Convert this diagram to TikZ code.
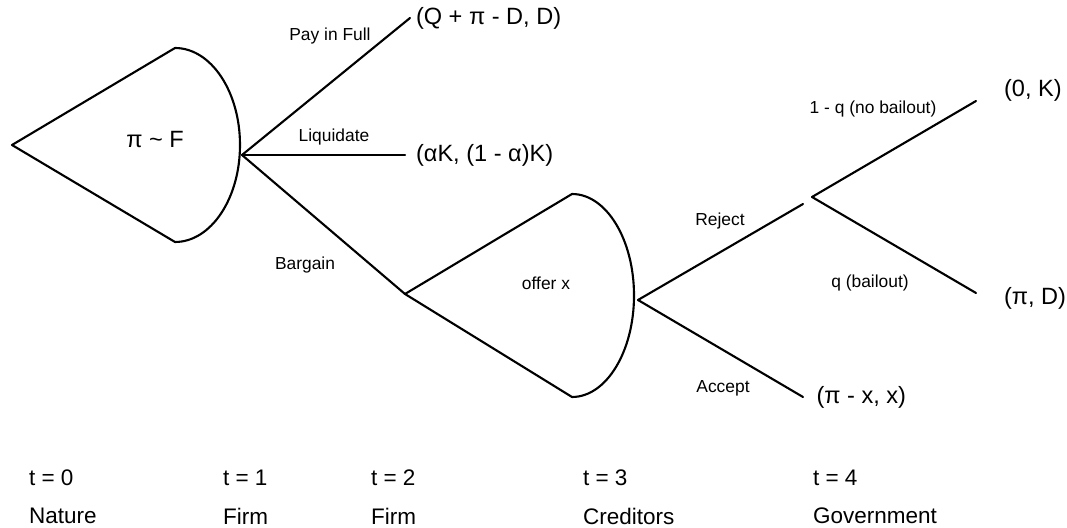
\documentclass[tikz,border=0pt]{standalone}
\usepackage{fontspec}
\setmainfont{Liberation Sans}
\usetikzlibrary{positioning}

\begin{document}
\begin{tikzpicture}[line width=1.2pt,line cap=round,line join=round,
  payoff/.style={font=\fontsize{13.4}{15}\selectfont,inner sep=0pt,anchor=west},
  move/.style={font=\fontsize{9.9}{11}\selectfont,inner sep=0pt},
  player/.style={font=\fontsize{13.4}{15}\selectfont,inner sep=0pt},
  period/.style={font=\fontsize{12.8}{14}\selectfont,inner sep=0pt,anchor=west}]
\useasboundingbox (0,0) rectangle (21.34,10.54);
\coordinate (nature) at (0.24,7.64);
\coordinate (natop) at (3.5,9.58);
\coordinate (nabot) at (3.5,5.70);
\draw (nature) -- (nabot) arc[start angle=-90,end angle=90,x radius=1.3,y radius=1.94] -- cycle;
\node[player] (distr) at (3.1,7.74) {π \textasciitilde{} F};
\coordinate (firm1) at (4.84,7.44);
\coordinate (pay) at (8.2,10.18);
\coordinate (liq) at (8.1,7.44);
\coordinate (barg) at (8.1,4.66);
\draw (firm1) -- (pay);
\draw (firm1) -- (liq);
\draw (firm1) -- (barg);
\node[payoff,right=0.1 of pay] (paypay) {(Q + π - D, D)};
\node[payoff,right=0.2 of liq] (liqpay) {(αK, (1 - α)K)};
\node[move] (paylab) at (6.6,9.82) {Pay in Full};
\node[move] (liqlab) at (6.68,7.8) {Liquidate};
\node[move] (barglab) at (6.1,5.24) {Bargain};
\coordinate (oftop) at (11.44,6.66);
\coordinate (ofbot) at (11.44,2.60);
\draw (barg) -- (ofbot) arc[start angle=-90,end angle=90,x radius=1.24,y radius=2.03] -- cycle;
\node[move] (offer) at (10.92,4.88) {offer x};
\coordinate (cred) at (12.76,4.54);
\coordinate (rej) at (16.06,6.46);
\coordinate (acc) at (16.06,2.60);
\draw (cred) -- (rej);
\draw (cred) -- (acc);
\node[payoff,right=0.25 of acc] (accpay) {(π - x, x)};
\node[move] (rejlab) at (14.4,6.12) {Reject};
\node[move] (acclab) at (14.46,2.78) {Accept};
\coordinate (gov) at (16.24,6.60);
\coordinate (nobail) at (19.52,8.52);
\coordinate (bail) at (19.52,4.68);
\draw (gov) -- (nobail);
\draw (gov) -- (bail);
\node[payoff] (nobailpay) at (20.06,8.74) {(0, K)};
\node[payoff] (bailpay) at (20.06,4.58) {(π, D)};
\node[move] (nobaillab) at (17.46,8.36) {1 - q (no bailout)};
\node[move] (baillab) at (17.4,4.88) {q (bailout)};
\node[period] (t0) at (0.56,0.98) {t = 0};
\node[period] (t1) at (4.44,0.98) {t = 1};
\node[period] (t2) at (7.4,0.98) {t = 2};
\node[period] (t3) at (11.64,0.98) {t = 3};
\node[period] (t4) at (16.24,0.98) {t = 4};
\node[period] (who0) at (0.56,0.22) {Nature};
\node[period] (who1) at (4.44,0.22) {Firm};
\node[period] (who2) at (7.4,0.22) {Firm};
\node[period] (who3) at (11.64,0.22) {Creditors};
\node[period] (who4) at (16.24,0.22) {Government};
\end{tikzpicture}
\end{document}
